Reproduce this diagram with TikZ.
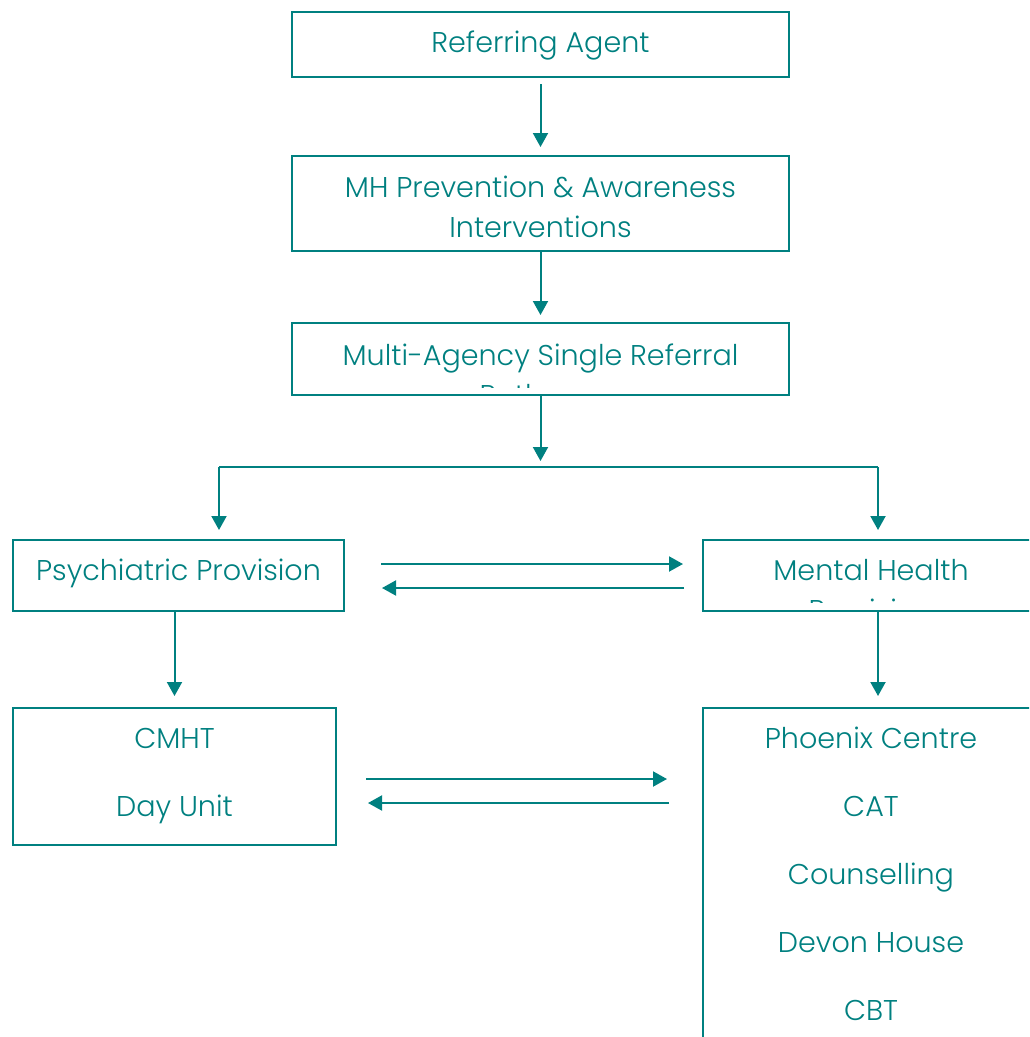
\documentclass[tikz,border=0pt]{standalone}
\usepackage{fontspec}
\setmainfont{Poppins}[UprightFont=* Light]
\usetikzlibrary{arrows.meta}
\definecolor{tl}{RGB}{0,128,128}
\tikzset{
  box/.style={draw=tl, line width=2pt, rectangle, inner sep=0pt},
  txt/.style={text=tl, font=\fontsize{28.6}{40}\selectfont, anchor=base, inner sep=0pt},
  arr/.style={draw=tl, line width=2pt, -{Triangle[length=14pt,width=15pt]}},
  ln/.style={draw=tl, line width=2pt}
}
\begin{document}
\begin{tikzpicture}[x=1pt,y=-1pt]
\useasboundingbox (0,0) rectangle (1029,1037);
\clip (0,0) rectangle (1029,1037);
% boxes
\node[box, minimum width=497pt, minimum height=65pt] (ra) at (540.5,44.5) {};
\node[box, minimum width=497pt, minimum height=95pt] (mh) at (540.5,203.5) {};
\node[box, minimum width=497pt, minimum height=72pt] (ma) at (540.5,359) {};
\node[box, minimum width=331pt, minimum height=71pt] (pp) at (178.5,575.5) {};
\node[box, minimum width=337pt, minimum height=71pt] (mhp) at (871.5,575.5) {};
\node[box, minimum width=323pt, minimum height=137pt] (cm) at (174.5,776.5) {};
\node[box, minimum width=337pt, minimum height=380pt] (ph) at (871.5,898) {};
% texts
\node[txt] (tra) at (540.5,52) {Referring Agent};
\node[txt] (tmh1) at (540.5,197) {MH Prevention \& Awareness};
\node[txt] (tmh2) at (540.5,237) {Interventions};
\node[txt] (tma1) at (540.5,365) {Multi-Agency Single Referral};
\begin{scope}
\clip (292,323) rectangle (789,387.5);
\node[txt] (tma2) at (540.5,405) {Pathway};
\end{scope}
\node[txt] (tpp) at (178.5,580) {Psychiatric Provision};
\node[txt] (tmhp1) at (871,580) {Mental Health};
\begin{scope}
\clip (703,540) rectangle (1029,602.5);
\node[txt] (tmhp2) at (871,620) {Provision};
\end{scope}
\node[txt] (tcm1) at (174.5,748) {CMHT};
\node[txt] (tcm2) at (174.5,816) {Day Unit};
\node[txt] (tph1) at (871,748) {Phoenix Centre};
\node[txt] (tph2) at (871,816) {CAT};
\node[txt] (tph3) at (871,884) {Counselling};
\node[txt] (tph4) at (871,952) {Devon House};
\node[txt] (tph5) at (871,1020) {CBT};
% connectors
\draw[arr] ([yshift=-6pt]ra.south) -- ([yshift=8pt]mh.north);
\draw[arr] (mh.south) -- ([yshift=7pt]ma.north);
\draw[arr] (ma.south) -- ([yshift=-65pt]ma.south);
\coordinate (jl) at (219,467);
\coordinate (jr) at (878,467);
\draw[ln] (jl) -- (jr);
\draw[arr, shorten >=9pt] (jl) -- (pp.north -| jl);
\draw[arr, shorten >=9pt] (jr) -- (mhp.north -| jr);
\draw[arr] ([xshift=36pt,yshift=11.5pt]pp.east) -- ([xshift=-19pt,yshift=11.5pt]mhp.west);
\draw[arr] ([xshift=-18pt,yshift=-12.5pt]mhp.west) -- ([xshift=37pt,yshift=-12.5pt]pp.east);
\draw[arr] (pp.south -| cm.north) -- ([yshift=11pt]cm.north);
\draw[arr] ([xshift=6.5pt]mhp.south) -- ([xshift=6.5pt,yshift=11pt]ph.north);
\draw[arr] ([xshift=29pt,yshift=-2.5pt]cm.east) -- ([xshift=-35pt,yshift=119pt]ph.west);
\draw[arr] ([xshift=-33pt,yshift=95pt]ph.west) -- ([xshift=31pt,yshift=-26.5pt]cm.east);
\end{tikzpicture}
\end{document}
